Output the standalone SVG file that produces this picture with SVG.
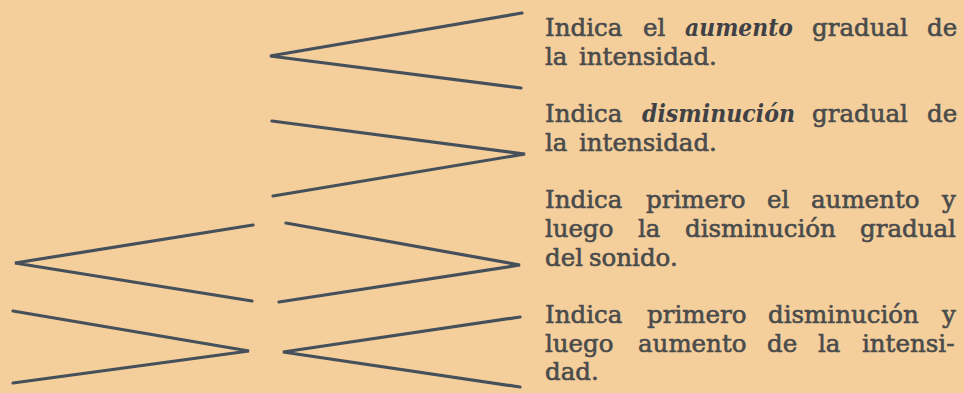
<svg xmlns="http://www.w3.org/2000/svg" width="964" height="393" viewBox="0 0 964 393">
<style>
.bg{fill:#f4cf9c}
.hp{fill:none;stroke:#46505a;stroke-width:3.2;stroke-linecap:round;stroke-linejoin:miter}
.t{font-family:"DejaVu Serif","Liberation Serif",serif;font-size:24.5px;fill:#4a4b4b;stroke:#4a4b4b;stroke-width:0.6px}
.em{font-weight:bold;font-style:italic;fill:#3f4145;stroke:none}
</style>
<rect class="bg" x="0" y="0" width="964" height="393"/>
<g id="item1">
<path class="hp" d="M522,13 L270,56 L521,88"/>
<text class="t" y="36"><tspan x="545">Indica</tspan><tspan x="643">el</tspan><tspan class="em" x="685" textLength="108" lengthAdjust="spacingAndGlyphs">aumento</tspan><tspan x="812">gradual</tspan><tspan x="927">de</tspan></text>
<text class="t" y="65"><tspan x="545">la</tspan><tspan x="579">intensidad.</tspan></text>
</g>
<g id="item2">
<path class="hp" d="M272,121 L525,154 L273,196"/>
<text class="t" y="122"><tspan x="545">Indica</tspan><tspan class="em" x="642" textLength="153" lengthAdjust="spacingAndGlyphs">disminución</tspan><tspan x="812">gradual</tspan><tspan x="927">de</tspan></text>
<text class="t" y="151"><tspan x="545">la</tspan><tspan x="579">intensidad.</tspan></text>
</g>
<g id="item3">
<path class="hp" d="M253,225 L15,263 L252,301"/>
<path class="hp" d="M286,223 L520,265 L279,302"/>
<text class="t" y="208"><tspan x="545">Indica</tspan><tspan x="646">primero</tspan><tspan x="767">el</tspan><tspan x="811">aumento</tspan><tspan x="942">y</tspan></text>
<text class="t" y="237"><tspan x="545">luego</tspan><tspan x="638">la</tspan><tspan x="685">disminución</tspan><tspan x="860">gradual</tspan></text>
<text class="t" y="266"><tspan x="545">del</tspan><tspan x="589">sonido.</tspan></text>
</g>
<g id="item4">
<path class="hp" d="M13,311 L249,351 L13,383"/>
<path class="hp" d="M520,317 L283,352 L520,387"/>
<text class="t" y="323"><tspan x="545">Indica</tspan><tspan x="647">primero</tspan><tspan x="768">disminución</tspan><tspan x="942">y</tspan></text>
<text class="t" y="352"><tspan x="545">luego</tspan><tspan x="638">aumento</tspan><tspan x="767">de</tspan><tspan x="818">la</tspan><tspan x="862">intensi-</tspan></text>
<text class="t" y="380"><tspan x="545">dad.</tspan></text>
</g>
</svg>
